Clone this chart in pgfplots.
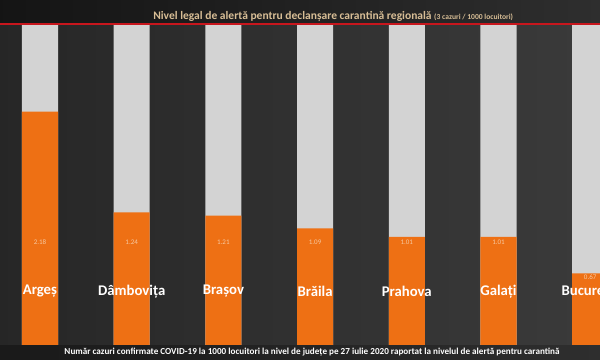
\documentclass[border=0pt]{standalone}
\usepackage{pgfplots}
\pgfplotsset{compat=1.18}
\usepackage{fontspec}
\setmainfont{Carlito}
\definecolor{barorange}{HTML}{EE7014}
\definecolor{bargray}{HTML}{D3D3D3}
\definecolor{redline}{HTML}{C8161D}
\definecolor{titlecol}{HTML}{D8BE96}
\definecolor{vallab}{HTML}{F6C8A0}
\begin{document}
\begin{tikzpicture}
\clip (0,0) rectangle (15cm,9cm);
\begin{axis}[
  at={(0,0)}, anchor=south west,
  width=15cm, height=9cm, scale only axis,
  xmin=-0.436, xmax=6.107,
  ymin=-0.140, ymax=3.224,
  axis lines=none,
  axis background/.style={left color=black!85, right color=black!77},
  ytick={0.3,0.6,...,2.75},
  xtick=\empty,
  ymajorgrids,
  major grid style={black!68, line width=0.4pt},
  yticklabels={},
  clip=false,
]
% gray bars: alert level 3
\addplot[ybar, bar width=0.393, bar shift=0pt, fill=bargray, draw=none]
  coordinates {(0,3) (1,3) (2,3) (3,3) (4,3) (5,3) (6,3)};
% orange bars: values
\addplot[ybar, bar width=0.393, bar shift=0pt, fill=barorange, draw=none]
  coordinates {(0,2.18) (1,1.24) (2,1.21) (3,1.09) (4,1.01) (5,1.01) (6,0.67)};
% value labels
\addplot[only marks, mark=none, nodes near coords, point meta=explicit symbolic,
  every node near coord/.append style={anchor=center, font=\fontsize{5}{6}\selectfont, text=vallab}]
  table[meta=lab] {
x y lab
0 0.96 2.18
1 0.96 1.24
2 0.96 1.21
3 0.96 1.09
4 0.96 1.01
5 0.96 1.01
6 0.63 0.67
};
% category labels
\addplot[only marks, mark=none, nodes near coords, point meta=explicit symbolic,
  every node near coord/.append style={anchor=center, font=\fontsize{10.5}{12}\bfseries, text=white}]
  table[meta=lab] {
x y lab
0 0.50 Argeș
1 0.50 Dâmbovița
2 0.50 Brașov
3 0.50 Brăila
4 0.50 Prahova
5 0.50 Galați
6 0.50 București
};
% top band
\fill[left color=black!92, right color=black!82] (axis cs:-0.436,3) rectangle (axis cs:6.107,3.224);
% bottom band
\fill[left color=black!90, right color=black!82] (axis cs:-0.436,-0.140) rectangle (axis cs:6.107,0);
% red line
\draw[redline!60!white, line width=1.6pt] (axis cs:-0.436,3) -- (axis cs:6.107,3);
\draw[redline, line width=1.1pt] (axis cs:-0.436,3) -- (axis cs:6.107,3);
% title
\node[anchor=west, text=titlecol, inner sep=0pt] at (rel axis cs:0.255,0.955)
  {\fontsize{8.2}{9}\bfseries Nivel legal de alertă pentru declanșare carantină regională \fontsize{5.4}{6}\selectfont(3 cazuri / 1000 locuitori)};
% bottom caption
\node[anchor=center, text=white, inner sep=0pt] at (rel axis cs:0.52,0.022)
  {\fontsize{6.5}{7.5}\bfseries Număr cazuri confirmate COVID-19 la 1000 locuitori la nivel de județe pe 27 iulie 2020 raportat la nivelul de alertă pentru carantină};
\end{axis}
\end{tikzpicture}
\end{document}
